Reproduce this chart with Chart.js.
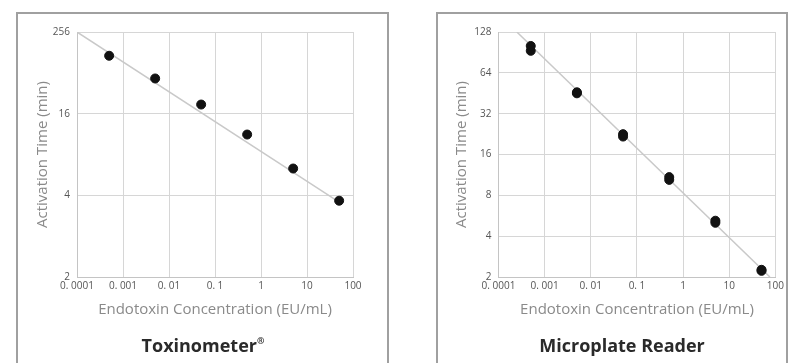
<!DOCTYPE html>
<html>
<head>
<meta charset="utf-8">
<script src="https://cdn.jsdelivr.net/npm/chart.js@4.4.1/dist/chart.umd.min.js"></script>
<style>
  body { margin: 0; background: #fff; width: 789px; height: 363px; overflow: hidden; position: relative; }
  .box { position: absolute; top: 12px; height: 360px; border: 2px solid #a0a0a0; box-sizing: border-box; }
  .wrap { position: absolute; top: 13px; }
  .panel-title {
    position: absolute; top: 333px; width: 300px; text-align: center;
    font: bold 18px 'Open Sans', sans-serif; color: #2a2a2a; line-height: 24px;
  }
  .panel-title sup { font-size: 9px; vertical-align: 8px; line-height: 0; }
</style>
</head>
<body>
<div class="box" style="left:16px; width:373px;"></div>
<div class="box" style="left:436px; width:352px;"></div>
<div class="wrap" style="left:17px;"><canvas id="toxChart" width="371" height="350"></canvas></div>
<div class="wrap" style="left:437px;"><canvas id="readerChart" width="350" height="350"></canvas></div>
<div class="panel-title" style="left:53px;">Toxinometer<sup>®</sup></div>
<div class="panel-title" style="left:472px;">Microplate Reader</div>
<script>
// endotoxin concentrations (EU/mL) used for both instruments
const concentrations = [0.0005, 0.005, 0.05, 0.5, 5, 50];
const xTicks = [0.0001, 0.001, 0.01, 0.1, 1, 10, 100];
const xTickLabels = ["0. 0001", "0. 001", "0. 01", "0. 1", "1", "10", "100"];

// Toxinometer activation times (min)
const toxTimes = [93, 42, 20, 10.2, 5.7, 3.76];
const toxFitX = [0.0001, 55];
const toxFitY = [256, 3.65];
const toxYTicks = [2, 4, 16, 256];

// Microplate reader activation times (min), two runs
const readerRun1 = [101, 46, 22.6, 10.9, 5.2, 2.26];
const readerRun2 = [93, 45.2, 21.7, 10.4, 5.02, 2.22];
const readerFitX = [0.00025, 76];
const readerFitY = [128, 2];
const readerYTicks = [2, 4, 8, 16, 32, 64, 128];

const tickFont = { family: "'Liberation Sans Narrow', 'Open Sans', sans-serif", size: 10 };
const titleFont = { family: "'Open Sans', sans-serif", size: 15 };

const lglg = (v) => Math.log2(Math.log2(v));

// y axis of the Toxinometer plot: 2, 4, 16, 256 evenly spaced
class DoubleLogScale extends Chart.Scale {
  static id = "doublelog";
  static defaults = {};

  determineDataLimits() {
    this.min = this.options.min;
    this.max = this.options.max;
  }
  buildTicks() {
    return toxYTicks.map((v) => ({ value: v }));
  }
  getLabelForValue(v) {
    return String(v);
  }
  configure() {
    super.configure();
    this._lo = lglg(this.min);
    this._hi = lglg(this.max);
  }
  getPixelForValue(v) {
    return this.getPixelForDecimal((lglg(v) - this._lo) / (this._hi - this._lo));
  }
  getValueForPixel(p) {
    const d = this.getDecimalForPixel(p);
    return 2 ** (2 ** (this._lo + d * (this._hi - this._lo)));
  }
}
Chart.register(DoubleLogScale);

function pairs(xs, ys) {
  return xs.map((x, i) => ({ x: x, y: ys[i] }));
}

function xScale() {
  return {
    type: "logarithmic",
    min: 0.0001,
    max: 100,
    afterBuildTicks: (s) => { s.ticks = xTicks.map((v) => ({ value: v })); },
    afterFit: (s) => { s.height = 86; },
    ticks: {
      autoSkip: false, maxRotation: 0, padding: 3, color: "#555", font: tickFont,
      callback: (v, i) => xTickLabels[i],
    },
    grid: { color: "#d6d6d6", drawTicks: false },
    border: { color: "#c4c4c4" },
    title: { display: true, text: "Endotoxin Concentration (EU/mL)", color: "#8a8a8a", font: titleFont, padding: { bottom: 44 } },
  };
}

function makeChart(id, cfg) {
  return new Chart(document.getElementById(id), {
    type: "scatter",
    data: {
      datasets: [
        {
          type: "line",
          data: pairs(cfg.fitX, cfg.fitY),
          borderColor: "#c9c9c9",
          borderWidth: 1.5,
          pointRadius: 0,
          order: 2,
        },
        ...cfg.series.map((s) => ({
          data: pairs(concentrations, s),
          backgroundColor: "#111",
          borderColor: "#111",
          pointRadius: 4.5,
          order: 1,
        })),
      ],
    },
    options: {
      responsive: false,
      animation: false,
      devicePixelRatio: 1,
      layout: { padding: cfg.padding },
      plugins: {
        legend: { display: false },
        tooltip: { enabled: false },
      },
      scales: {
        x: xScale(),
        y: Object.assign(cfg.y, {
          afterFit: (s) => { s.width = cfg.yWidth; },
          ticks: Object.assign({ padding: 7, color: "#555", font: tickFont }, cfg.y.ticks || {}),
          grid: { color: "#d6d6d6", drawTicks: false },
          border: { color: "#c4c4c4" },
          title: { display: true, text: "Activation Time (min)", color: "#8a8a8a", font: titleFont, padding: { top: cfg.yTitlePad } },
        }),
      },
    },
  });
}

makeChart("toxChart", {
  series: [toxTimes],
  fitX: toxFitX,
  fitY: toxFitY,
  padding: { left: 0, top: 19, right: 35, bottom: 0 },
  yWidth: 60,
  yTitlePad: 17,
  y: { type: "doublelog", min: 2, max: 256 },
});

makeChart("readerChart", {
  series: [readerRun1, readerRun2],
  fitX: readerFitX,
  fitY: readerFitY,
  padding: { left: 0, top: 19, right: 9.5, bottom: 0 },
  yWidth: 61.5,
  yTitlePad: 16,
  y: {
    type: "logarithmic",
    min: 2,
    max: 128,
    afterBuildTicks: (s) => { s.ticks = readerYTicks.map((v) => ({ value: v })); },
    ticks: { callback: (v) => String(v) },
  },
});
</script>
</body>
</html>
